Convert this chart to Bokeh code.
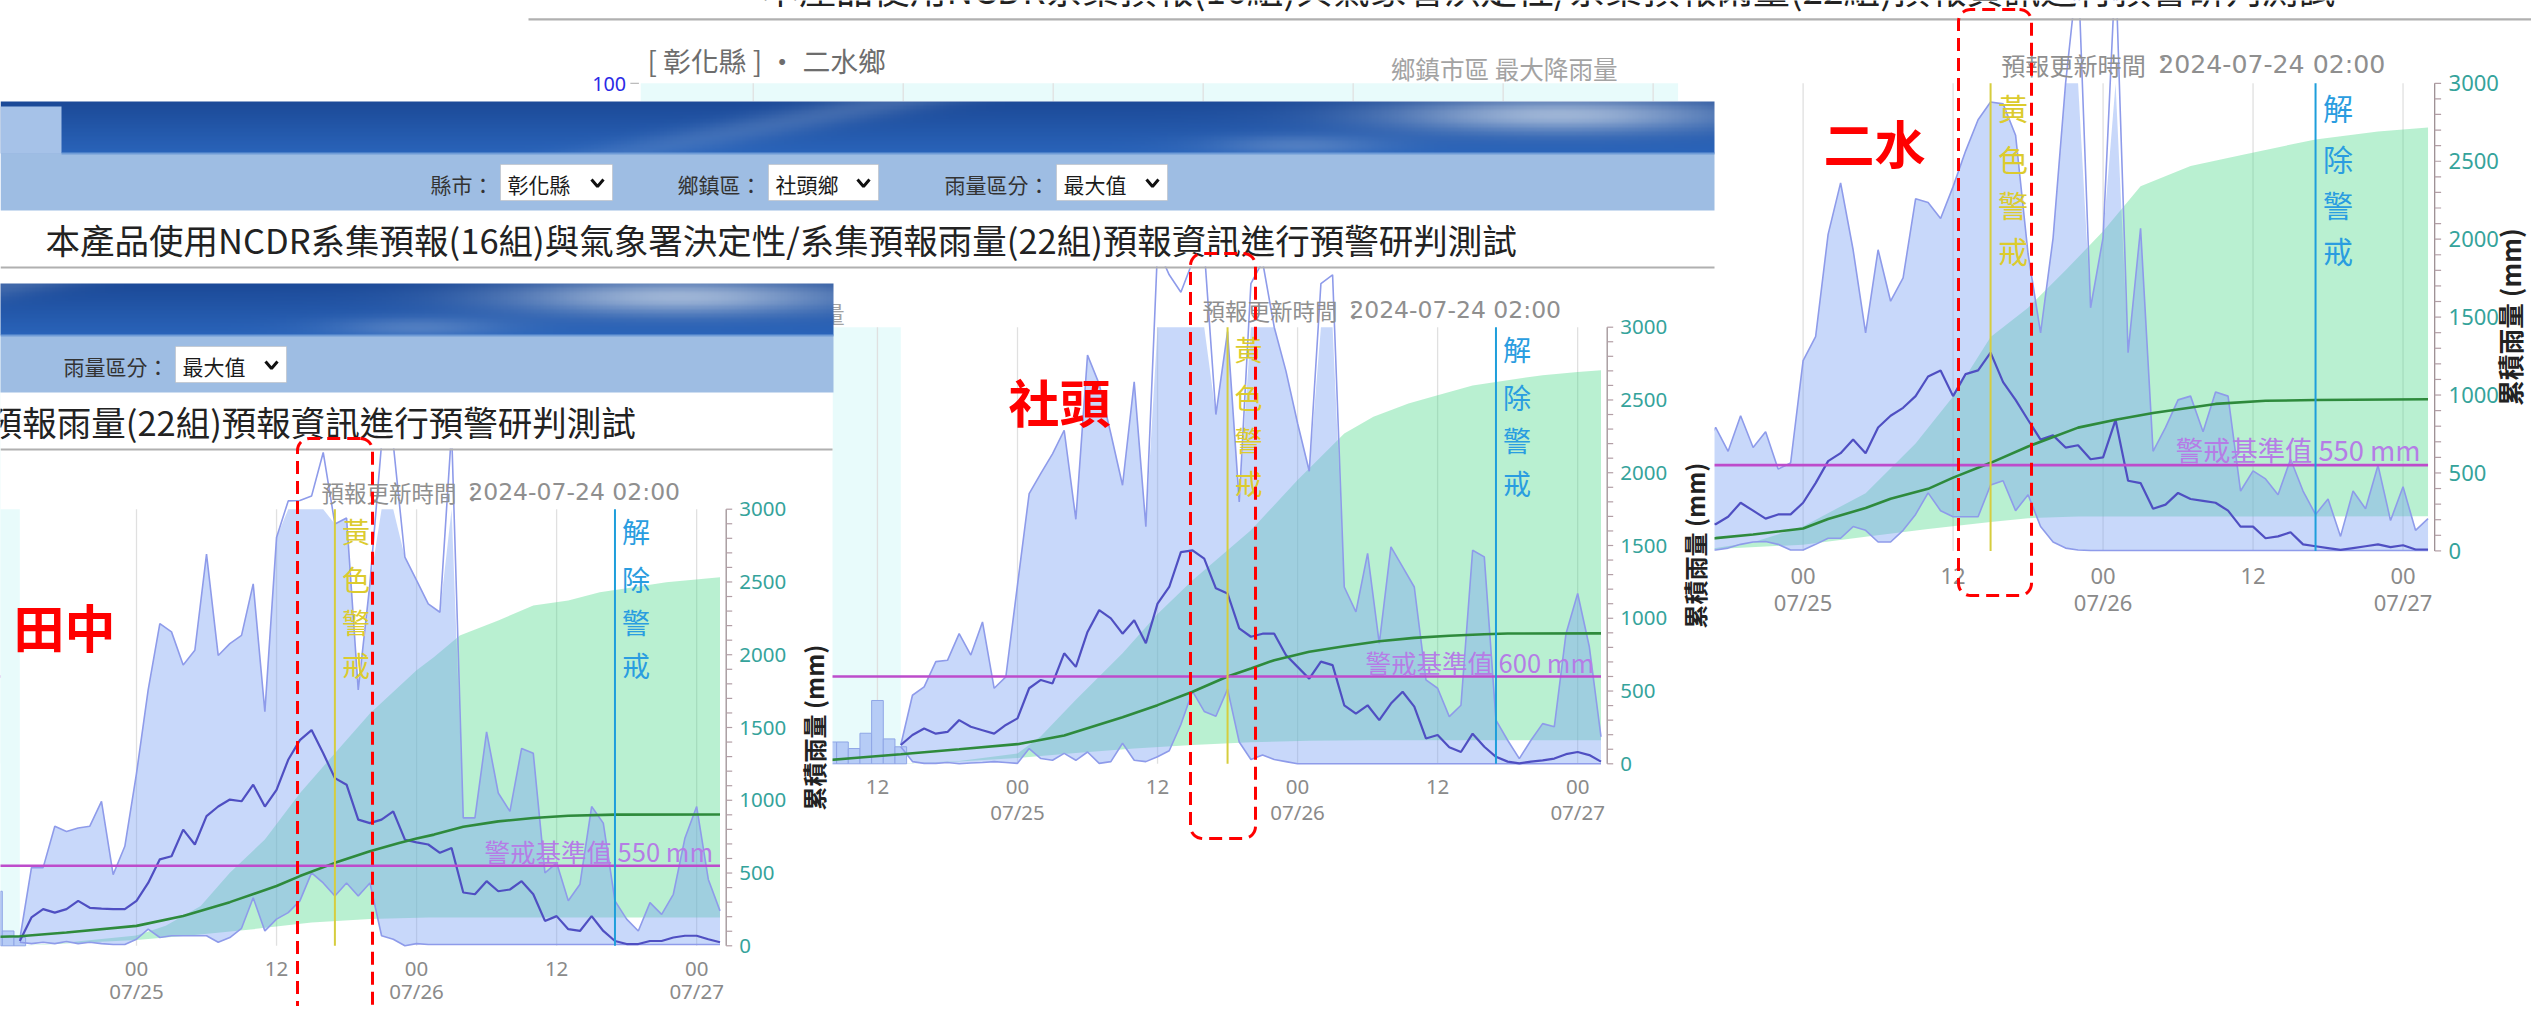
import numpy as np
from bokeh.plotting import figure
from bokeh.models import Range1d
from bokeh.core.properties import value
from bokeh.embed import file_html
from bokeh.resources import INLINE

# ------------------------------------------------------------------
# DATA  (hours relative to 2024-07-25 00:00; hourly rain in mm/h on the
# hidden 0-100 axis, accumulated rain in mm on the 0-3000 axis)
# ------------------------------------------------------------------
HOURS = list(range(-10, 51))

# ---- 二水 ----
ERSHUI_UPPER = [20, 24, 22, 26.4, 21.3, 28.9, 22.1, 25.5, 17.5, 18.8,
                40.7, 45.8, 67.7, 78.7, 64.4, 46.6, 64.4, 53.4, 58.4, 75.3,
                74.5, 71.1, 77.9, 85.5, 92.2, 96, 95.6, 88.9, 63.5, 46.6,
                66.9, 100, 125, 52, 67, 125, 42.4, 69, 21.3, 26.4,
                32.3, 33.1, 25.5, 34, 33.1, 12.8, 17.1, 15.4, 12, 19.6,
                12.8, 7.8, 11.1, 3.1, 12.8, 9, 18.3, 6.5, 13.7, 4.4, 6.9]
ERSHUI_MEAN = [5, 6, 6.5, 5.7, 7.3, 10.3, 8.6, 6.9, 7.8, 7.8,
               10.3, 14.5, 19.2, 20.9, 23.8, 20.9, 26.4, 28.9, 30.6, 33.1,
               37.3, 38.6, 33.1, 37.8, 38.6, 42.4, 36.1, 32.3, 28, 23.8,
               24.7, 22.1, 22.6, 19.6, 20, 28, 15, 14.5, 9, 9.9,
               12.4, 11.1, 10.7, 10.3, 8.6, 5.2, 5.2, 2.7, 3.1, 4,
               1.4, 1, 0.6, 0.2, 0.6, 1, 1.4, 0.8, 1.2, 0.3, 0.3]
ERSHUI_LOWER = [1, 0.5, 0.3, 0.2, 0.6, 1.4, 1.9, 2, 1.4, 0.2,
                0.2, 1.4, 2.7, 2.7, 5.2, 4.4, 1.9, 1.9, 4.4, 7.8,
                12.4, 8.6, 7.3, 7.3, 7.3, 14.1, 15, 8.6, 12, 5.2,
                1.9, 0.6, 0.2, 0.1, 0.1, 0.1, 0.1, 0.1, 0.1, 0.1,
                0.1, 0.1, 0.1, 0.1, 0.1, 0.1, 0.1, 0.1, 0.1, 0.1,
                0.1, 0.1, 0.1, 0.1, 0.1, 0.1, 0.1, 0.1, 0.1, 0.1, 0.1]
ERSHUI_CUM_HOURS = [-10, -7, -4, 0, 2, 5, 7, 10, 12, 15, 18, 22, 25, 28, 33, 37, 41, 50]
ERSHUI_CUM = [70, 82, 105, 144, 205, 275, 334, 398, 470, 565, 670, 791, 841, 885, 943, 963, 968, 973]
ERSHUI_CUMMAX_HOURS = [-10, -7, -4, 0, 5, 9, 12, 15, 18, 21, 24, 27, 31, 35, 41, 46, 50]
ERSHUI_CUMMAX = [0, 18, 56, 157, 370, 689, 990, 1373, 1560, 1800, 2050, 2340, 2470, 2539, 2640, 2691, 2716]
ERSHUI_CUMMIN_HOURS = [-10, 0, 5, 10, 15, 18, 22, 50]
ERSHUI_CUMMIN = [0, 40, 90, 140, 185, 210, 220, 222]
ERSHUI_OBS_HOURS = []
ERSHUI_OBS = []

# ---- 社頭 ----
SHETOU_UPPER = [4.3, 15.7, 17.6, 23.4, 23.7, 29.8, 24.9, 32.5, 17.3, 19.9,
                41, 61.9, 66.5, 71, 76.4, 56, 93.6, 87, 75.6, 63.8,
                87.5, 54.3, 118, 112, 108, 115, 118, 80, 99, 60,
                110, 115, 100, 90, 78, 67, 110, 112, 40.5, 34.8,
                48.2, 27.6, 49.7, 45.1, 40.5, 19.2, 17.3, 10.8, 13.4, 48.9,
                47.4, 10, 5.4, 1.2, 5.4, 9.2, 8.5, 29.8, 39, 26.8, 6.2]
SHETOU_MEAN = [4.3, 6.6, 8.1, 6.9, 7.3, 10, 8.5, 7.7, 6.9, 8.9,
               10.4, 17.3, 19.2, 18.4, 25.3, 22.2, 30.2, 35.2, 33.3, 29.8,
               32.9, 27.6, 36.7, 40.5, 48.5, 48.9, 47, 40.2, 39, 31,
               29.1, 29.8, 29.8, 24.9, 22.2, 19.5, 23.4, 22.6, 13.4, 11.5,
               13.4, 10, 13.8, 16.5, 13.1, 5.8, 6.6, 3.8, 2.7, 6.9,
               3.9, 1.6, 0.5, 0.1, 0.5, 0.8, 1.2, 2.2, 2.7, 2, 0.5]
SHETOU_LOWER = [3.9, 0.5, 0.1, 0.1, 0.3, 0, 0.2, 0.3, 0.5, 0.3,
                0.1, 3.5, 1.2, 0.8, 2.4, 0.8, 2.7, 0.1, 0.5, 4.7,
                0.8, 0.5, 1.6, 3, 9, 16.6, 12, 10.9, 17.1, 5,
                1, 2, 1, 0.5, 0, 0, 0, 0, 0, 0,
                0, 0, 0, 0, 0, 0, 0, 0, 0, 0,
                0, 0, 0, 0, 0, 0, 0, 0, 0, 0, 0]
SHETOU_CUM_HOURS = [-17, -14, -10, -5, 0, 4, 9, 12, 15, 18, 20, 22, 25, 28, 31, 34, 37, 40, 42, 50]
SHETOU_CUM = [20, 40, 66, 100, 135, 195, 320, 403, 495, 600, 655, 712, 770, 808, 842, 865, 880, 890, 895, 896]
SHETOU_CUMMAX_HOURS = [-10, -5, 0, 2, 5, 9, 12, 15, 20, 24, 28, 30.5, 33.5, 36, 39, 42, 45, 48, 50]
SHETOU_CUMMAX = [0, 20, 70, 190, 440, 760, 1030, 1262, 1605, 1950, 2270, 2384, 2475, 2533, 2600, 2636, 2670, 2693, 2705]
SHETOU_CUMMIN_HOURS = [-10, -5, 0, 5, 10, 15, 20, 25, 30, 50]
SHETOU_CUMMIN = [0, 15, 40, 75, 105, 130, 148, 158, 162, 162]
SHETOU_OBS_HOURS = [-16, -15, -14, -13, -12, -11, -10]
SHETOU_OBS = [5.0, 5.0, 3.5, 7.0, 14.5, 5.7, 3.9]

# ---- 田中 ----
TIANZHONG_UPPER = [1.5, 17.9, 17.9, 27.4, 26.2, 27, 27.4, 33.1, 16.3, 22.8,
                   39.5, 58.6, 73.8, 71.9, 64.3, 67.7, 89.7, 66.5, 69.2, 71.1,
                   82.9, 53.6, 93.5, 101.9, 102, 103, 113, 96.6, 98, 58.6,
                   82.9, 115, 115, 89, 83.7, 78.3, 76.4, 118, 29.3, 29.3,
                   49, 35, 30.8, 45.2, 44.1, 16.7, 19, 10.3, 14.1, 31.9,
                   28.1, 10.3, 6.1, 3.4, 9.9, 7.2, 11.8, 24.7, 31.9, 15.2, 8]
TIANZHONG_MEAN = [1.1, 6.5, 8.4, 7.6, 8.4, 10.3, 8.7, 8.5, 8.4, 8.4,
                  10.3, 14.4, 19.8, 20.5, 26.6, 23.2, 29.7, 31.9, 33.5, 33.1,
                  36.9, 31.9, 35.7, 42.6, 47.1, 49.4, 44.1, 38.4, 36.9, 28.9,
                  28.1, 28.9, 30.8, 24.3, 23.7, 23.2, 21.3, 22.4, 12.2, 11.8,
                  14.8, 12.5, 12.9, 14.8, 11.8, 5.7, 6.8, 3.8, 3.4, 6.8,
                  3.4, 1.1, 0.4, 0.4, 1.1, 1.1, 1.9, 2.3, 2.3, 1.5, 0.8]
TIANZHONG_LOWER = [0.8, 0.5, 0.8, 0.5, 1, 0.5, 0.8, 0.5, 0.3, 0.3,
                   1.5, 3.8, 1.9, 2.3, 2.3, 2.3, 2.3, 0.8, 1.9, 4,
                   11, 3.4, 6.1, 7.6, 10.3, 16.7, 14.4, 11.4, 14.4, 11.4,
                   14.4, 2.3, 1.5, 0, 0.5, 0.3, 0.3, 0.3, 0.3, 0.3,
                   0.3, 0.3, 0.3, 0.3, 0.3, 0.3, 0.3, 0.3, 0.3, 0.3,
                   0.3, 0.3, 0.3, 0.3, 0.3, 0.3, 0.3, 0.3, 0.3, 0.3, 0.3]
TIANZHONG_CUM_HOURS = [-13, -10, -6, 0, 4, 8, 12, 14, 17, 20, 22.5, 24, 25.5, 28, 31, 34, 37, 41, 50]
TIANZHONG_CUM = [60, 66, 91, 137, 205, 300, 411, 479, 570, 650, 707, 738, 764, 818, 855, 878, 894, 901, 902]
TIANZHONG_CUMMAX_HOURS = [-10, -6, 0, 2.5, 5.5, 8, 11, 14, 17, 20, 24, 25.5, 27.7, 31, 34, 37, 39.7, 42.6, 45.4, 50]
TIANZHONG_CUMMAX = [0, 23, 70, 137, 274, 502, 730, 1049, 1323, 1597, 1893, 1984, 2133, 2235, 2338, 2372, 2429, 2464, 2498, 2532]
TIANZHONG_CUMMIN_HOURS = [-10, 0, 5, 10, 15, 20, 25, 50]
TIANZHONG_CUMMIN = [0, 40, 75, 114, 160, 185, 194, 195]
TIANZHONG_OBS_HOURS = [-12, -11, -10]
TIANZHONG_OBS = [12.5, 3.4, 1.9]

# thresholds / alert times (hours)
TOWN_NAMES = ["二水", "社頭", "田中"]
THRESHOLDS = [550, 600, 550]
YELLOW_ALERT_HOURS = [15, 18, 17]
CLEAR_ALERT_HOURS = [41, 41, 41]

CUM_TICKS = [0, 500, 1000, 1500, 2000, 2500, 3000]
TIME_TICKS = list(range(-84, 49, 12))
TITLE = "本產品使用NCDR系集預報(16組)與氣象署決定性/系集預報雨量(22組)預報資訊進行預警研判測試"
UPDATE_TIME = "2024-07-24  02:00"

# ------------------------------------------------------------------
# layout (page template in px; each screenshot is the page moved/scaled)
# ------------------------------------------------------------------
H_START, H_END, BAND_END = -93, 50, -10
PX_PER_H, X_H0 = 11.67, 1017.0
PLOT_LEFT = X_H0 + H_START * PX_PER_H
PLOT_RIGHT = X_H0 + H_END * PX_PER_H
PLOT_TOP, PLOT_BOTTOM = 326.7, 763.3
AXIS_H = H_END + 6.2 / PX_PER_H

W, H = 2531, 1006

SHOTS = [  # (ox, oy, scale), screenshot rect on canvas (left, right, top, bottom), left limit of visibility
    ((713.4, -267.1, 1.071), (528, 2547, 0, 640), 1714),
    ((0.0, 0.0, 1.0), (0, 1714, 101, 850), 832),
    ((-881.0, 182.0, 1.0), (0, 832, 282, 1030), 0),
]

CJK = value("Noto Sans CJK TC")
SANS = value("Noto Sans")
DJV = value("DejaVu Sans")

p = figure(width=W, height=H, x_range=Range1d(0, W), y_range=Range1d(H, 0),
           x_axis_location=None, y_axis_location=None, toolbar_location=None,
           output_backend="svg", min_border=0, outline_line_color=None,
           background_fill_color="white", border_fill_color="white")
p.xgrid.visible = False
p.ygrid.visible = False


def txt(x, y, s, size, color, font=CJK, align="left", baseline="middle", style="normal", angle=0.0):
    p.text(x=[x], y=[y], text=[s], text_font=font, text_font_size=f"{size:.1f}px",
           text_color=color, text_align=align, text_baseline=baseline,
           text_font_style=style, angle=angle)


def header_image():
    hh, ww = 40, 520
    yy, xx = np.mgrid[0:hh, 0:ww].astype(float)
    fx = xx / (ww - 1) * 1714.0
    fy = yy / (hh - 1)
    r = 28 + 14 * fy
    g = 74 + 26 * fy
    b = 152 + 34 * fy
    streak = np.exp(-((fx - 760 + (fy - 0.5) * 260) / 70.0) ** 2) * 0.22 * (1 - 0.4 * fy)
    cloud = np.exp(-(((fx - 1560) / 170.0) ** 2 + ((fy - 0.25) / 0.35) ** 2)) * 0.75
    cloud += np.exp(-(((fx - 1300) / 90.0) ** 2 + ((fy - 0.85) / 0.2) ** 2)) * 0.25
    lum = np.clip(streak + cloud, 0, 1)
    r = r + (200 - r) * lum
    g = g + (214 - g) * lum
    b = b + (232 - b) * lum
    img = np.zeros((hh, ww), dtype=np.uint32)
    v = img.view(dtype=np.uint8).reshape((hh, ww, 4))
    v[..., 0] = r.astype(np.uint8)
    v[..., 1] = g.astype(np.uint8)
    v[..., 2] = b.astype(np.uint8)
    v[..., 3] = 255
    return img


HEADER_IMG = header_image()


def draw_chart(T, rect, vis_min, town, upper, mean, lower, cum_h, cum, max_h, cmax, min_h, cmin,
               obs_h, obs, thr, yellow, clear):
    ox, oy, s = T
    X = lambda x: ox + s * x
    Y = lambda y: oy + s * y
    xl, xr, yt, yb = rect

    def sub(ymax):
        return p.subplot(x_source=Range1d(H_START, H_END), y_source=Range1d(0, ymax),
                         x_target=Range1d(X(PLOT_LEFT), X(PLOT_RIGHT)),
                         y_target=Range1d(Y(PLOT_BOTTOM), Y(PLOT_TOP)))

    cum_ax = sub(3000)
    hr_ax = sub(100)
    fs = lambda v: f"{v * s:.1f}px"

    cum_ax.quad(left=[H_START], right=[BAND_END], bottom=[0], top=[3000],
                fill_color="#e8fbfb", line_color=None)
    cum_ax.segment(x0=TIME_TICKS, y0=[0] * len(TIME_TICKS), x1=TIME_TICKS, y1=[3000] * len(TIME_TICKS),
                   line_color="#e0e0e0", line_width=1.3)
    gx = list(max_h) + list(min_h)[::-1]
    gy = list(cmax) + list(cmin)[::-1]
    cum_ax.patch(x=gx, y=gy, fill_color="#4fd98b", fill_alpha=0.40, line_color=None)
    hr_ax.varea(x=HOURS, y1=lower, y2=np.minimum(upper, 100), fill_color="#7da2f2", fill_alpha=0.42)
    if obs_h:
        hr_ax.vbar(x=obs_h, width=1.0, top=obs, bottom=0, fill_color="#b6ccf6",
                   line_color="#8fa6e6", line_width=1)
    hr_ax.line(HOURS, upper, line_color="#8e9bea", line_width=1.6)
    hr_ax.line(HOURS, lower, line_color="#8e9bea", line_width=1.6)
    hr_ax.line(HOURS, mean, line_color="#4f4fc2", line_width=2.2)
    cum_ax.line(cum_h, cum, line_color="#2e8a3c", line_width=2.6)
    cum_ax.segment(x0=[H_START], y0=[thr], x1=[H_END], y1=[thr], line_color="#bd4ccb", line_width=2.6)
    cum_ax.text(x=[H_END], y=[thr], text=[f"警戒基準值 {thr} mm"], text_font=CJK,
                text_font_size=fs(25.5), text_color="#b57de6", text_align="right",
                text_baseline="middle", x_offset=-7 * s, y_offset=-15 * s)
    cum_ax.segment(x0=[yellow], y0=[0], x1=[yellow], y1=[3000], line_color="#d6cd3e", line_width=2)
    cum_ax.segment(x0=[clear], y0=[0], x1=[clear], y1=[3000], line_color="#1e9edb", line_width=2)
    offs = [v * s for v in (22, 70, 112.5, 156)]
    cum_ax.text(x=[yellow] * 4, y=[3000] * 4, text=list("黃色警戒"), text_font=CJK,
                text_font_size=fs(28), text_color="#dccb2e", text_align="center",
                text_baseline="middle", x_offset=21 * s, y_offset=offs)
    cum_ax.text(x=[clear] * 4, y=[3000] * 4, text=list("解除警戒"), text_font=CJK,
                text_font_size=fs(28), text_color="#2a9de0", text_align="center",
                text_baseline="middle", x_offset=21 * s, y_offset=offs)

    # right axis
    cum_ax.segment(x0=[AXIS_H], y0=[0], x1=[AXIS_H], y1=[3000], line_color="#9d9094", line_width=1.3)
    minor = list(range(0, 3001, 100))
    cum_ax.segment(x0=[AXIS_H] * len(minor), y0=minor, x1=[AXIS_H + 6 / PX_PER_H] * len(minor), y1=minor,
                   line_color="#b29ea5", line_width=1.2)
    cum_ax.text(x=[AXIS_H] * len(CUM_TICKS), y=CUM_TICKS, text=[str(t) for t in CUM_TICKS],
                text_font=SANS, text_font_size=fs(20.5), text_color="#35a39b",
                text_align="left", text_baseline="middle", x_offset=13 * s)
    axis_px = X(X_H0 + AXIS_H * PX_PER_H)
    title_off = min(87 * s, (W - 22) - axis_px)
    cum_ax.text(x=[AXIS_H], y=[1500], text=["累積雨量 (mm)"], text_font=CJK,
                text_font_size=fs(24), text_font_style="bold", text_color="#222222",
                text_align="center", text_baseline="middle", angle=np.pi / 2, x_offset=title_off)
    # time axis labels (only those visible in this screenshot)
    vis = [h for h in TIME_TICKS
           if X(X_H0 + h * PX_PER_H) - 22 > max(vis_min, 0) and X(X_H0 + h * PX_PER_H) + 22 < min(xr, W)]
    hours_lbl = ["00" if h % 24 == 0 else "12" for h in vis]
    cum_ax.text(x=vis, y=[0] * len(vis), text=hours_lbl, text_font=SANS,
                text_font_size=fs(20.5), text_color="#8a8a8a", text_align="center",
                text_baseline="middle", y_offset=23 * s)
    day_h = [h for h in vis if h % 24 == 0]
    date_off = min(48 * s, (H - 16) - Y(PLOT_BOTTOM))
    cum_ax.text(x=day_h, y=[0] * len(day_h), text=[f"07/{25 + h // 24:02d}" for h in day_h],
                text_font=SANS, text_font_size=fs(20.5), text_color="#8a8a8a", text_align="center",
                text_baseline="middle", y_offset=date_off)

    # chart header texts
    if X(-62) >= 0:
        txt(X(-62), Y(305), f"[ 彰化縣 ] · {town}鄉", 26 * s, "#6d6d6d")
        txt(X(-82), Y(327), "100", 18.5 * s, "#2a2ae6", font=SANS, align="right")
        p.segment(x0=[X(-78)], y0=[Y(PLOT_TOP)], x1=[X(-70)], y1=[Y(PLOT_TOP)],
                  line_color="#aaaaaa", line_width=1)
    if X(632) >= 0:
        txt(X(632), Y(312), "鄉鎮市區 最大降雨量", 23 * s, "#a3a3a3")
    txt(X(1202), Y(309), "預報更新時間", 22.5 * s, "#8f8f8f")
    txt(X(1353), Y(309), "：", 22 * s, "#8f8f8f", align="center")
    txt(X(1568), Y(309), UPDATE_TIME, 23.5 * s, "#8f8f8f", font=DJV, align="right")


def draw_page_top(T, rect, town):
    ox, oy, s = T
    X = lambda x: ox + s * x
    Y = lambda y: oy + s * y
    xl, xr, yt, yb = rect
    p.quad(left=[xl], right=[xr], top=[yt], bottom=[Y(266)], fill_color="white", line_color=None)
    if Y(153) > 0:
        p.image_rgba(image=[HEADER_IMG], x=X(0), y=Y(101), dw=1714 * s, dh=52 * s)
        p.quad(left=[X(0)], right=[X(61)], top=[Y(106)], bottom=[Y(153)], fill_color="#a6c2e8", line_color=None)
        p.quad(left=[X(0)], right=[X(1714)], top=[Y(153)], bottom=[Y(210)], fill_color="#9ebde3", line_color=None)
        p.segment(x0=[max(X(61), 0)], y0=[Y(153)], x1=[X(1714)], y1=[Y(153)], line_color="#6f9bd6",
                  line_width=2 * s)
        drops = [("縣市：", "彰化縣", 500, 612), ("鄉鎮區：", town + "鄉", 768, 878),
                 ("雨量區分：", "最大值", 1056, 1167)]
        for lab, val, bl, br in drops:
            if X(bl - 110) < 0:
                continue
            txt(X(bl - 7), Y(183), lab, 21 * s, "#333333", align="right")
            p.quad(left=[X(bl)], right=[X(br)], top=[Y(164)], bottom=[Y(200)], fill_color="white",
                   line_color="#b8b8b8", line_dash="1 1", line_width=1)
            txt(X(bl + 7), Y(183), val, 21 * s, "#1a1a1a")
            cx = X(br - 15)
            p.line(x=[cx - 6 * s, cx, cx + 6 * s], y=[Y(179), Y(186), Y(179)], line_color="#111111",
                   line_width=3 * s)
    txt(X(45), Y(238), TITLE, 34.5 * s, "#222222")
    p.segment(x0=[xl], y0=[Y(267)], x1=[xr], y1=[Y(267)], line_color="#b0b0b0", line_width=2 * s)


TOWN_DATA = [
    (ERSHUI_UPPER, ERSHUI_MEAN, ERSHUI_LOWER, ERSHUI_CUM_HOURS, ERSHUI_CUM, ERSHUI_CUMMAX_HOURS,
     ERSHUI_CUMMAX, ERSHUI_CUMMIN_HOURS, ERSHUI_CUMMIN, ERSHUI_OBS_HOURS, ERSHUI_OBS),
    (SHETOU_UPPER, SHETOU_MEAN, SHETOU_LOWER, SHETOU_CUM_HOURS, SHETOU_CUM, SHETOU_CUMMAX_HOURS,
     SHETOU_CUMMAX, SHETOU_CUMMIN_HOURS, SHETOU_CUMMIN, SHETOU_OBS_HOURS, SHETOU_OBS),
    (TIANZHONG_UPPER, TIANZHONG_MEAN, TIANZHONG_LOWER, TIANZHONG_CUM_HOURS, TIANZHONG_CUM,
     TIANZHONG_CUMMAX_HOURS, TIANZHONG_CUMMAX, TIANZHONG_CUMMIN_HOURS, TIANZHONG_CUMMIN,
     TIANZHONG_OBS_HOURS, TIANZHONG_OBS),
]

for i, (T, rect, vis_min) in enumerate(SHOTS):
    if i > 0:
        xl, xr, yt, yb = rect
        p.quad(left=[xl], right=[xr], top=[yt], bottom=[yb], fill_color="white", line_color=None)
    draw_chart(T, rect, vis_min, TOWN_NAMES[i], *TOWN_DATA[i], THRESHOLDS[i],
               YELLOW_ALERT_HOURS[i], CLEAR_ALERT_HOURS[i])
    draw_page_top(T, rect, TOWN_NAMES[i])

# ------------------------------------------------------------------
# red annotations (collage overlay)
# ------------------------------------------------------------------
ANNOT_BOXES = [(1958, 2031, 9, 595), (1190, 1255, 253, 838), (297, 372, 438, 1030)]
ANNOT_LABELS = [(1874, 141), (1059, 400), (64, 625)]


def rounded_path(x0, x1, y0, y1, r=12, n=10):
    xs, ys = [], []
    for cx, cy, a0 in [(x1 - r, y0 + r, -np.pi / 2), (x1 - r, y1 - r, 0.0),
                       (x0 + r, y1 - r, np.pi / 2), (x0 + r, y0 + r, np.pi)]:
        a = np.linspace(a0, a0 + np.pi / 2, n)
        xs += list(cx + r * np.cos(a))
        ys += list(cy + r * np.sin(a))
    xs.append(xs[0])
    ys.append(ys[0])
    return xs, ys


for (x0, x1, y0, y1), (lx, ly), name in zip(ANNOT_BOXES, ANNOT_LABELS, TOWN_NAMES):
    xs, ys = rounded_path(x0, x1, y0, y1)
    p.line(xs, ys, line_color="#ff0000", line_width=3, line_dash="13 7")
    txt(lx, ly, name, 51, "#ff0000", align="center", style="bold")

open("out.html", "w").write(file_html(p, INLINE))
